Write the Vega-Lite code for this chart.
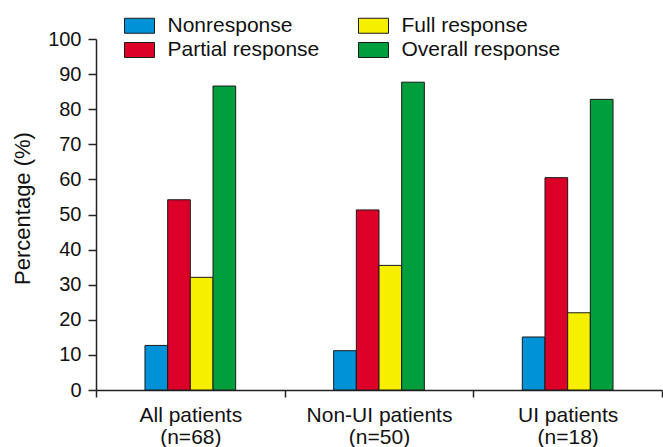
{
  "$schema": "https://vega.github.io/schema/vega-lite/v6.json",
  "width": 566,
  "height": 351,
  "autosize": {"type": "none"},
  "padding": {"left": 96, "top": 39, "right": 1, "bottom": 57},
  "data": {
    "values": [
      {"group": "All patients (n=68)", "response": "Nonresponse", "pct": 12.7},
      {"group": "All patients (n=68)", "response": "Partial response", "pct": 54.2},
      {"group": "All patients (n=68)", "response": "Full response", "pct": 32.1},
      {"group": "All patients (n=68)", "response": "Overall response", "pct": 86.6},
      {"group": "Non-UI patients (n=50)", "response": "Nonresponse", "pct": 11.2},
      {"group": "Non-UI patients (n=50)", "response": "Partial response", "pct": 51.3},
      {"group": "Non-UI patients (n=50)", "response": "Full response", "pct": 35.5},
      {"group": "Non-UI patients (n=50)", "response": "Overall response", "pct": 87.7},
      {"group": "UI patients (n=18)", "response": "Nonresponse", "pct": 15.1},
      {"group": "UI patients (n=18)", "response": "Partial response", "pct": 60.5},
      {"group": "UI patients (n=18)", "response": "Full response", "pct": 22.0},
      {"group": "UI patients (n=18)", "response": "Overall response", "pct": 82.8}
    ]
  },
  "mark": {"type": "bar", "stroke": "#1a1a1a", "strokeWidth": 1},
  "encoding": {
    "x": {
      "field": "group",
      "type": "nominal",
      "sort": null,
      "scale": {"paddingInner": 0, "paddingOuter": 0},
      "axis": {
        "title": null,
        "labelAngle": 0,
        "labelExpr": "isString(datum.value) ? [slice(datum.value, 0, indexof(datum.value, ' (')), slice(datum.value, indexof(datum.value, ' (') + 1)] : ''",
        "labelFont": "Liberation Sans",
        "labelFontSize": 21,
        "labelColor": "#111",
        "labelLineHeight": 22,
        "labelBaseline": "top",
        "labelPadding": 7,
        "tickBand": "extent",
        "tickSize": 7,
        "tickWidth": 1.5,
        "tickColor": "#222",
        "domainColor": "#222",
        "domainWidth": 1.5
      }
    },
    "xOffset": {
      "field": "response",
      "type": "nominal",
      "scale": {
        "domain": ["pad1", "pad2", "Nonresponse", "Partial response", "Full response", "Overall response", "pad3", "pad4"],
        "paddingInner": 0,
        "paddingOuter": 0.16
      }
    },
    "y": {
      "field": "pct",
      "type": "quantitative",
      "scale": {"domain": [0, 100], "nice": false},
      "axis": {
        "title": "Percentage (%)",
        "values": [0, 10, 20, 30, 40, 50, 60, 70, 80, 90, 100],
        "grid": false,
        "labelFont": "Liberation Sans",
        "labelFontSize": 20,
        "labelColor": "#111",
        "labelPadding": 7,
        "tickSize": 8,
        "tickWidth": 1.5,
        "tickColor": "#222",
        "domainColor": "#222",
        "domainWidth": 1.5,
        "titleFont": "Liberation Sans",
        "titleFontSize": 22,
        "titleFontWeight": "normal",
        "titleColor": "#111",
        "titleX": -62,
        "titleY": 169
      }
    },
    "color": {
      "field": "response",
      "type": "nominal",
      "scale": {
        "domain": ["Nonresponse", "Partial response", "Full response", "Overall response"],
        "range": ["#0092d6", "#dc0028", "#f7ef00", "#009e3c"]
      },
      "legend": {
        "title": null,
        "orient": "none",
        "legendX": 33,
        "legendY": -24,
        "columns": 2,
        "padding": 0,
        "columnPadding": 36,
        "rowPadding": 2.5,
        "symbolType": "M-2,-1H2V1H-2Z",
        "symbolSize": 225,
        "symbolStrokeColor": "#1a1a1a",
        "symbolStrokeWidth": 1,
        "symbolOpacity": 1,
        "labelFont": "Liberation Sans",
        "labelFontSize": 21,
        "labelColor": "#111",
        "labelOffset": 17.5,
        "labelLimit": 400
      }
    }
  },
  "config": {"view": {"stroke": null}}
}
